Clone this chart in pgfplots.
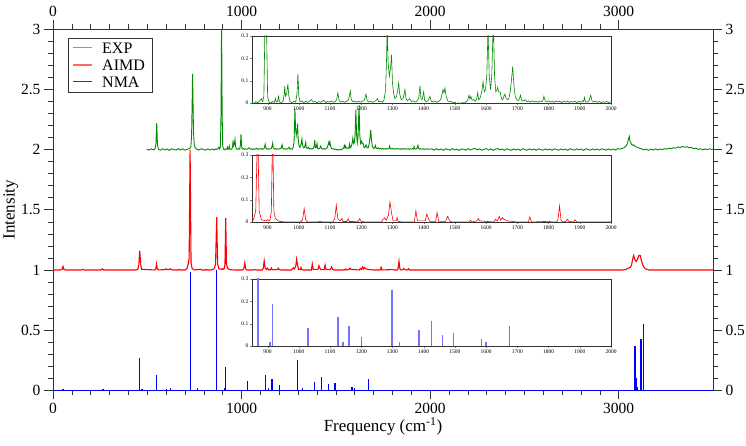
\documentclass[border=0pt]{standalone}
\usepackage{fontspec}
\setmainfont{Liberation Serif}
\usepackage{pgfplots}
\usepackage{pgfplotstable}
\pgfplotsset{compat=1.18}
\definecolor{expg}{RGB}{0,139,0}

% EXP spectrum, intensity minus offset 2
\pgfplotstableread[row sep=\\]{
x y \\
497 0.005 \\ 509 -0.004 \\ 521 0.007 \\ 533 -0.002 \\ 541 0.006 \\ 546 0.05 \\ 550 0.22 \\ 554 0.04 \\ 559 0.004 \\
569 -0.005 \\ 581 0.008 \\ 593 -0.003 \\ 605 0.005 \\ 617 -0.006 \\ 629 0.007 \\ 641 0.001 \\ 653 -0.004 \\ 665 0.008 \\
677 -0.002 \\ 689 0.006 \\ 701 -0.005 \\ 713 0.004 \\ 723 0.008 \\ 731 0.02 \\ 735 0.12 \\ 738 0.4 \\ 740 0.63 \\
742 0.45 \\ 745 0.15 \\ 749 0.04 \\ 754 0.015 \\ 761 0.005 \\ 773 -0.004 \\ 785 0.007 \\ 797 0.002 \\ 809 -0.005 \\
821 0.006 \\ 833 -0.003 \\ 845 0.004 \\
850 0.004 \\ 856 -0.003 \\ 862 0.006 \\ 868 0.001 \\ 874 0.008 \\ 880 0.02 \\ 884 0.006 \\ 888 0.03 \\ 891 0.3 \\
894 1.1 \\ 897 0.3 \\ 900 0.03 \\ 904 0.005 \\ 910 -0.002 \\ 916 0.007 \\ 922 0.003 \\ 925 0.02 \\ 928 0.004 \\
932 0.006 \\ 935 0.03 \\ 938 0.005 \\ 944 0.002 \\ 950 0.01 \\ 953 0.04 \\ 955 0.076 \\ 957 0.03 \\ 961 0.04 \\
965 0.085 \\ 968 0.03 \\ 972 0.006 \\ 978 0.002 \\ 984 0.008 \\ 990 0.004 \\ 994 0.04 \\ 997 0.13 \\ 1000 0.03 \\
1004 0.005 \\ 1010 0.009 \\ 1016 0.002 \\ 1022 0.007 \\ 1028 0.003 \\ 1034 0.008 \\ 1040 0.015 \\ 1046 0.004 \\
1052 0.007 \\ 1058 0.001 \\ 1064 0.006 \\ 1070 0.003 \\ 1076 0.008 \\ 1080 0.012 \\ 1086 0.002 \\ 1092 0.007 \\
1098 0.004 \\ 1104 0.009 \\ 1110 0.003 \\ 1116 0.006 \\ 1121 0.015 \\ 1125 0.045 \\ 1129 0.012 \\ 1134 0.004 \\
1140 0.008 \\ 1146 0.003 \\ 1152 0.007 \\ 1158 0.012 \\ 1162 0.03 \\ 1165 0.054 \\ 1168 0.015 \\ 1174 0.005 \\
1180 0.009 \\ 1186 0.003 \\ 1192 0.007 \\ 1198 0.004 \\ 1204 0.008 \\ 1210 0.012 \\ 1215 0.04 \\ 1219 0.01 \\
1224 0.004 \\ 1230 0.008 \\ 1236 0.003 \\ 1242 0.007 \\ 1248 0.012 \\ 1252 0.02 \\ 1256 0.005 \\ 1262 0.008 \\
1268 0.003 \\ 1273 0.015 \\ 1278 0.06 \\ 1281 0.2 \\ 1283 0.34 \\ 1286 0.18 \\ 1290 0.12 \\ 1294 0.16 \\ 1297 0.215 \\
1300 0.09 \\ 1304 0.04 \\ 1308 0.02 \\ 1313 0.03 \\ 1317 0.06 \\ 1320 0.09 \\ 1323 0.04 \\ 1328 0.015 \\ 1334 0.02 \\
1338 0.045 \\ 1340 0.06 \\ 1343 0.02 \\ 1348 0.01 \\ 1355 0.02 \\ 1360 0.006 \\ 1366 0.01 \\ 1372 0.004 \\ 1378 0.008 \\
1384 0.02 \\ 1388 0.078 \\ 1391 0.02 \\ 1395 0.015 \\ 1400 0.05 \\ 1403 0.012 \\ 1408 0.006 \\ 1414 0.01 \\ 1420 0.03 \\
1424 0.008 \\ 1430 0.004 \\ 1436 0.009 \\ 1442 0.003 \\ 1448 0.008 \\ 1454 0.015 \\ 1458 0.035 \\ 1462 0.06 \\
1465 0.045 \\ 1468 0.067 \\ 1472 0.03 \\ 1477 0.01 \\ 1482 0.005 \\ 1488 0.007 \\ 1494 0.002 \\ 1500 0.004 \\
1506 -0.003 \\ 1512 0.001 \\ 1518 -0.004 \\ 1524 0.002 \\ 1530 0.0 \\ 1536 0.006 \\ 1541 0.012 \\ 1545 0.035 \\
1548 0.018 \\ 1551 0.03 \\ 1555 0.012 \\ 1560 0.015 \\ 1565 0.008 \\ 1569 0.015 \\ 1573 0.046 \\ 1576 0.015 \\
1580 0.02 \\ 1584 0.04 \\ 1587 0.06 \\ 1590 0.095 \\ 1594 0.05 \\ 1598 0.06 \\ 1602 0.12 \\ 1606 0.33 \\ 1610 0.12 \\
1614 0.06 \\ 1618 0.12 \\ 1623 0.37 \\ 1627 0.12 \\ 1631 0.05 \\ 1635 0.06 \\ 1637 0.07 \\ 1640 0.05 \\ 1645 0.05 \\
1649 0.02 \\ 1653 0.015 \\ 1657 0.03 \\ 1660 0.04 \\ 1664 0.02 \\ 1669 0.015 \\ 1673 0.02 \\ 1677 0.05 \\ 1681 0.1 \\
1685 0.163 \\ 1689 0.08 \\ 1693 0.03 \\ 1698 0.015 \\ 1703 0.01 \\ 1707 0.02 \\ 1710 0.035 \\ 1714 0.012 \\
1720 0.008 \\ 1725 0.015 \\ 1730 0.006 \\ 1736 0.01 \\ 1742 0.004 \\ 1748 0.009 \\ 1754 0.005 \\ 1760 0.008 \\
1766 0.003 \\ 1772 0.009 \\ 1778 0.006 \\ 1782 0.012 \\ 1785 0.03 \\ 1789 0.01 \\ 1794 0.005 \\ 1800 0.01 \\
1806 0.004 \\ 1812 0.008 \\ 1818 0.003 \\ 1824 0.009 \\ 1830 0.005 \\ 1836 0.007 \\ 1842 0.002 \\ 1848 0.008 \\
1854 0.004 \\ 1860 0.009 \\ 1866 0.003 \\ 1872 0.007 \\ 1878 0.004 \\ 1884 0.008 \\ 1890 0.002 \\ 1896 0.007 \\
1902 0.004 \\ 1908 0.01 \\ 1912 0.006 \\ 1915 0.025 \\ 1918 0.006 \\ 1924 0.004 \\ 1930 0.01 \\ 1935 0.035 \\
1939 0.01 \\ 1944 0.005 \\ 1950 0.008 \\ 1956 0.003 \\ 1962 0.007 \\ 1968 0.002 \\ 1974 0.006 \\ 1980 0.003 \\
1986 0.007 \\ 1992 0.002 \\ 1998 0.005 \\
2010 0.006 \\ 2022 -0.004 \\ 2034 0.008 \\ 2046 -0.002 \\ 2058 0.005 \\ 2070 -0.006 \\ 2082 0.007 \\ 2094 0.001 \\
2106 -0.005 \\ 2118 0.009 \\ 2130 -0.002 \\ 2142 0.004 \\ 2154 -0.007 \\ 2166 0.006 \\ 2178 0.002 \\ 2190 -0.004 \\
2202 0.008 \\ 2214 -0.003 \\ 2226 0.005 \\ 2238 0.010 \\ 2250 -0.002 \\ 2262 0.006 \\ 2274 -0.005 \\ 2286 0.004 \\
2298 0.008 \\ 2310 -0.003 \\ 2322 0.006 \\ 2334 -0.006 \\ 2346 0.004 \\ 2358 0.009 \\ 2370 -0.002 \\ 2382 0.005 \\
2394 -0.005 \\ 2406 0.007 \\ 2418 0.001 \\ 2430 -0.006 \\ 2442 0.006 \\ 2454 -0.002 \\ 2466 0.004 \\ 2478 -0.007 \\
2490 0.008 \\ 2502 0.002 \\ 2514 -0.005 \\ 2526 0.006 \\ 2538 -0.003 \\ 2550 0.005 \\ 2562 -0.006 \\ 2574 0.007 \\
2586 0.0 \\ 2598 -0.004 \\ 2610 0.006 \\ 2622 -0.002 \\ 2634 0.004 \\ 2646 -0.006 \\ 2658 0.007 \\ 2670 0.001 \\
2682 -0.005 \\ 2694 0.006 \\ 2706 -0.003 \\ 2718 0.004 \\ 2730 -0.006 \\ 2742 0.008 \\ 2754 0.0 \\ 2766 -0.004 \\
2778 0.006 \\ 2790 -0.002 \\ 2802 0.005 \\ 2814 -0.006 \\ 2826 0.007 \\ 2838 0.001 \\ 2850 -0.004 \\ 2862 0.006 \\
2874 -0.002 \\ 2886 0.004 \\ 2898 -0.005 \\ 2910 0.007 \\ 2922 0.002 \\ 2934 -0.004 \\ 2946 0.006 \\ 2958 -0.003 \\
2970 0.005 \\ 2982 -0.004 \\ 2994 0.008 \\ 3006 0.004 \\ 3018 0.010 \\ 3028 0.015 \\ 3038 0.03 \\ 3046 0.05 \\
3052 0.09 \\ 3056 0.11 \\ 3060 0.07 \\ 3066 0.05 \\ 3072 0.035 \\ 3080 0.04 \\ 3088 0.025 \\ 3098 0.02 \\ 3110 0.012 \\
3122 0.006 \\ 3134 -0.002 \\ 3146 0.004 \\ 3158 -0.006 \\ 3170 0.005 \\ 3182 -0.004 \\ 3194 0.006 \\ 3206 -0.002 \\
3218 0.005 \\ 3230 0.0 \\ 3242 0.008 \\ 3254 0.004 \\ 3266 0.012 \\ 3278 0.008 \\ 3290 0.016 \\ 3302 0.012 \\
3314 0.022 \\ 3326 0.018 \\ 3338 0.026 \\ 3350 0.02 \\ 3362 0.024 \\ 3374 0.016 \\ 3386 0.018 \\ 3398 0.008 \\
3410 0.012 \\ 3422 0.002 \\ 3434 0.008 \\ 3446 -0.002 \\ 3458 0.006 \\ 3470 0.0 \\ 3482 0.007 \\ 3494 0.002 \\ 3500 0.005 \\
}\exptab

% AIMD spectrum, intensity minus offset 1
\pgfplotstableread[row sep=\\]{
x y \\
0 0 \\ 40 0 \\ 48 0.005 \\ 53 0.03 \\ 58 0.005 \\ 66 0 \\ 150 0 \\ 158 0.005 \\ 166 0 \\ 255 0 \\ 262 0.01 \\ 269 0 \\
440 0 \\ 450 0.005 \\ 455 0.04 \\ 460 0.16 \\ 465 0.05 \\ 470 0.005 \\ 540 0 \\ 545 0.01 \\ 549 0.05 \\ 553 0.01 \\
560 0 \\ 595 0.003 \\ 600 0.01 \\ 605 0.003 \\ 616 0.003 \\ 621 0.01 \\ 626 0.003 \\ 640 0 \\ 665 0 \\ 670 0.005 \\
675 0 \\ 700 0 \\ 710 0.01 \\ 717 0.05 \\ 722 0.1 \\ 727 1.0 \\ 732 0.06 \\ 738 0.01 \\ 750 0 \\ 780 0.005 \\ 790 0 \\
808 0 \\ 812 0.005 \\ 816 0 \\ 840 0 \\ 855 0.01 \\ 862 0.05 \\ 868 0.44 \\ 873 0.05 \\ 880 0.01 \\ 885 0.008 \\
895 0.005 \\ 900 0.01 \\ 905 0.006 \\ 908 0.01 \\ 912 0.05 \\ 916 0.43 \\ 920 0.05 \\ 925 0.015 \\ 930 0.01 \\
935 0.003 \\ 960 0 \\ 1005 0 \\ 1012 0.01 \\ 1017 0.06 \\ 1022 0.01 \\ 1028 0 \\ 1060 0 \\ 1068 0.004 \\ 1075 0 \\
1110 0 \\ 1115 0.015 \\ 1120 0.075 \\ 1125 0.015 \\ 1132 0.005 \\ 1138 0.015 \\ 1142 0.002 \\ 1154 0.002 \\
1158 0.015 \\ 1162 0.002 \\ 1190 0.003 \\ 1195 0.015 \\ 1200 0.003 \\ 1210 0 \\ 1265 0 \\ 1270 0.012 \\ 1275 0.018 \\
1280 0.008 \\ 1287 0.03 \\ 1292 0.09 \\ 1297 0.04 \\ 1302 0.005 \\ 1312 0.005 \\ 1315 0.02 \\ 1318 0.003 \\ 1330 0 \\
1370 0 \\ 1375 0.05 \\ 1380 0.005 \\ 1405 0.005 \\ 1410 0.036 \\ 1415 0.015 \\ 1420 0.003 \\ 1438 0.003 \\
1443 0.042 \\ 1448 0.003 \\ 1470 0.003 \\ 1477 0.025 \\ 1483 0.005 \\ 1490 0 \\ 1545 0 \\ 1550 0.008 \\ 1555 0 \\
1570 0.005 \\ 1575 0.015 \\ 1580 0.005 \\ 1625 0 \\ 1630 0.012 \\ 1636 0.005 \\ 1642 0.025 \\ 1647 0.008 \\
1652 0.02 \\ 1657 0.012 \\ 1663 0.008 \\ 1670 0.004 \\ 1680 0.003 \\ 1700 0 \\ 1735 0 \\ 1740 0.023 \\ 1745 0 \\
1800 0.003 \\ 1810 0 \\ 1825 0 \\ 1830 0.01 \\ 1835 0.072 \\ 1840 0.008 \\ 1845 0 \\ 1855 0.003 \\ 1860 0.012 \\
1865 0.003 \\ 1880 0 \\ 1885 0.01 \\ 1890 0 \\ 2000 0 \\ 3020 0 \\ 3040 0.005 \\ 3050 0.015 \\ 3060 0.02 \\
3068 0.04 \\ 3074 0.09 \\ 3079 0.12 \\ 3085 0.09 \\ 3092 0.07 \\ 3100 0.09 \\ 3107 0.12 \\ 3114 0.12 \\ 3120 0.08 \\
3128 0.04 \\ 3135 0.02 \\ 3145 0.008 \\ 3160 0 \\ 3500 0 \\
}\aimdtab

% NMA stick spectrum
\pgfplotstableread[row sep=\\]{
x y \\
53 0.01 \\ 158 0.005 \\ 265 0.01 \\ 460 0.27 \\ 472 0.01 \\ 549 0.13 \\ 602 0.01 \\ 623 0.02 \\ 729 0.98 \\
765 0.02 \\ 869 1.0 \\ 908 0.02 \\ 916 0.19 \\ 1030 0.08 \\ 1126 0.13 \\ 1141 0.02 \\ 1161 0.09 \\ 1201 0.04 \\
1298 0.25 \\ 1322 0.02 \\ 1385 0.07 \\ 1425 0.11 \\ 1460 0.05 \\ 1495 0.06 \\ 1586 0.03 \\ 1600 0.02 \\
1675 0.09 \\ 3086 0.37 \\ 3094 0.1 \\ 3100 0.03 \\ 3118 0.43 \\ 3130 0.55 \\
}\nmatab

\pgfplotsset{
  mainbox/.style={
    at={(0pt,0pt)}, anchor=south west, scale only axis,
    width=660pt, height=361pt,
    xmin=0, xmax=3500, ymin=0, ymax=3,
    xtick={0,1000,2000,3000}, ytick={0,0.5,1,1.5,2,2.5,3},
    tick align=outside, major tick length=9pt, minor tick length=5pt,
    ticklabel style={font=\fontsize{15.5}{17}\selectfont},
    /pgf/number format/assume math mode=true,
    /pgf/number format/1000 sep={},
    scaled ticks=false,
  },
  inset/.style={
    anchor=south west, scale only axis,
    width=359pt, height=67pt,
    xmin=850, xmax=2000, ymin=0, ymax=0.3,
    xtick={900,1000,...,2000}, ytick={0,0.1,0.2,0.3},
    tick pos=left, tick align=outside, major tick length=2pt,
    ticklabel style={font=\fontsize{5.5}{6}\selectfont, inner sep=1.5pt},
    axis line style={line width=0.6pt, black!80},
    axis background/.style={fill=white},
    /pgf/number format/assume math mode=true,
    /pgf/number format/1000 sep={},
    scaled ticks=false,
  },
}

\begin{document}
\begin{tikzpicture}
\useasboundingbox (-53pt,-55.7pt) rectangle (693pt,390.3pt);
\begin{axis}[mainbox,
  minor x tick num=9, minor y tick num=4,
  tick pos=both, ticklabel pos=left,
  axis line style={line width=0.7pt, black!80},
  tick style={line width=0.6pt, black!80},
  xlabel={Frequency (cm\textsuperscript{-1})},
  ylabel={Intensity},
  label style={font=\fontsize{17}{19}\selectfont},
  xlabel style={yshift=3pt},
  ylabel style={yshift=-4pt},
]
\addplot[expg, line width=0.9pt] table[x=x, y expr=\thisrow{y}+2] {\exptab};
\addplot[red, line width=1.1pt] table[x=x, y expr=\thisrow{y}+1] {\aimdtab};
\addplot[blue, line width=1pt] coordinates {(0,0) (3500,0)};
\addplot[blue, line width=1.2pt, ycomb] table[x=x, y=y] {\nmatab};
\end{axis}
% legend box, keys and labels
\draw[draw=black!80, line width=0.7pt, fill=white] (15pt,352.3pt) rectangle (99pt,298.3pt);
\draw[draw=expg!60, line width=1.1pt] (20pt,342.6pt) -- (39pt,342.6pt);
\draw[draw=red!60, line width=1.1pt] (20pt,325.3pt) -- (39pt,325.3pt);
\draw[draw=blue!85, line width=1.1pt] (20pt,308.6pt) -- (39pt,308.6pt);
\node[anchor=west, inner sep=0pt, text height=11pt, text depth=0pt, text=black,
  font=\fontsize{16}{17}\selectfont] at (49pt,342.6pt) {EXP};
\node[anchor=west, inner sep=0pt, text height=11pt, text depth=0pt, text=black,
  font=\fontsize{16}{17}\selectfont] at (49pt,325.3pt) {AIMD};
\node[anchor=west, inner sep=0pt, text height=11pt, text depth=0pt, text=black,
  font=\fontsize{16}{17}\selectfont] at (49pt,308.6pt) {NMA};
% top and right tick labels
\begin{axis}[mainbox, xticklabel pos=upper, yticklabel pos=right,
  tick style={draw=none}, axis line style={draw=none}]
\end{axis}
% insets
\begin{axis}[inset, at={(199pt,287.3pt)}]
\addplot[expg, line width=0.6pt] table[x=x, y=y] {\exptab};
\end{axis}
\begin{axis}[inset, at={(199pt,168.3pt)}]
\addplot[red, line width=0.6pt] table[x=x, y=y] {\aimdtab};
\end{axis}
\begin{axis}[inset, at={(199pt,44.3pt)}]
\addplot[blue!55, line width=1.4pt, ycomb] table[x=x, y=y] {\nmatab};
\end{axis}
\end{tikzpicture}
\end{document}
